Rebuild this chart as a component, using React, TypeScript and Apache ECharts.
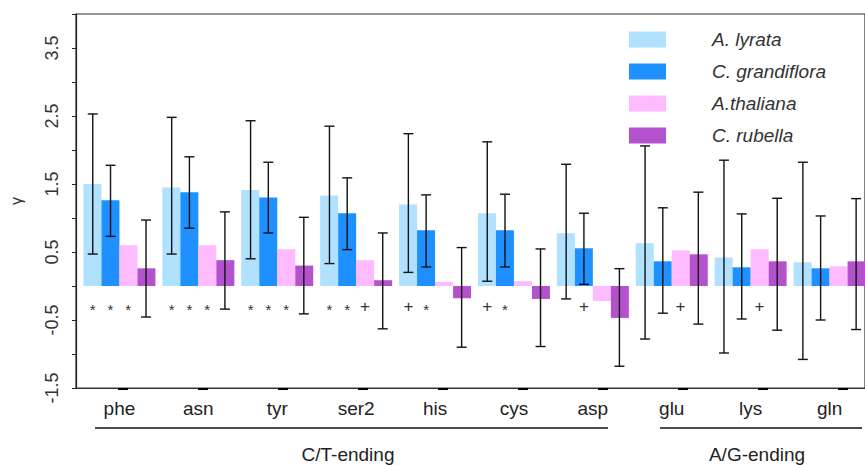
import React, { useEffect, useRef } from "react";
import * as echarts from "echarts";

const categories = ["phe", "asn", "tyr", "ser2", "his", "cys", "asp", "glu", "lys", "gln"];
const seriesNames = ["A. lyrata", "C. grandiflora", "A.thaliana", "C. rubella"];
const colors = ["#B0E2FF", "#1E90FF", "#FFBBFF", "#B452CD"];

const lyrata = [1.5, 1.45, 1.41, 1.33, 1.2, 1.07, 0.775, 0.63, 0.42, 0.35];
const grandiflora = [1.26, 1.38, 1.3, 1.07, 0.82, 0.82, 0.555, 0.363, 0.275, 0.26];
const thaliana = [0.6, 0.6, 0.54, 0.38, 0.06, 0.07, -0.22, 0.525, 0.54, 0.29];
const rubella = [0.26, 0.38, 0.3, 0.085, -0.18, -0.19, -0.47, 0.466, 0.363, 0.363];

const lyrataLow = [0.47, 0.47, 0.4, 0.33, 0.2, 0.07, -0.19, -0.78, -0.985, -1.08];
const lyrataHigh = [2.53, 2.48, 2.43, 2.35, 2.24, 2.12, 1.79, 2.06, 1.85, 1.82];
const grandLow = [0.73, 0.85, 0.78, 0.535, 0.28, 0.28, 0.025, -0.4, -0.485, -0.5];
const grandHigh = [1.775, 1.9, 1.82, 1.59, 1.34, 1.35, 1.07, 1.15, 1.06, 1.03];
const rubellaLow = [-0.456, -0.34, -0.41, -0.63, -0.9, -0.89, -1.18, -0.56, -0.65, -0.64];
const rubellaHigh = [0.97, 1.09, 1.01, 0.78, 0.565, 0.545, 0.255, 1.38, 1.29, 1.285];

// significance marks under lyrata / grandiflora / thaliana bars
const marks = [
  ["*", "*", "*"],
  ["*", "*", "*"],
  ["*", "*", "*"],
  ["*", "*", "+"],
  ["+", "*", ""],
  ["+", "*", ""],
  ["", "+", ""],
  ["", "", "+"],
  ["", "", "+"],
  ["", "", ""],
];
const markLevel = -0.3;

const groupLabels = ["C/T-ending", "A/G-ending"];

const FONT = "'Liberation Sans', Arial, Helvetica, sans-serif";

export default function App() {
  const ref = useRef<HTMLDivElement>(null);
  useEffect(() => {
    if (!ref.current) return;
    const chart = echarts.init(ref.current, null, { renderer: "svg" });
    // offset of bar j within band (band 80 = 8 gap + 4*18 bars)
    const frac = (j: number) => (8 + 9 + 18 * j) / 80 - 0.5;

    const errData: number[][] = [];
    ([
      [lyrataLow, lyrataHigh, 0],
      [grandLow, grandHigh, 1],
      [rubellaLow, rubellaHigh, 3],
    ] as [number[], number[], number][]).forEach(([lo, hi, j]) => {
      categories.forEach((_, i) => errData.push([i, j, lo[i], hi[i]]));
    });
    const markData: number[][] = [];
    const markSym: string[] = [];
    marks.forEach((row, i) =>
      row.forEach((s, j) => {
        if (s) {
          markData.push([i, j, markLevel]);
          markSym.push(s);
        }
      })
    );

    const values = [lyrata, grandiflora, thaliana, rubella];
    const barSeries: any[] = values.map((v, k) => ({
      name: seriesNames[k],
      type: "bar",
      data: v,
      barWidth: 18,
      barGap: "0%",
      itemStyle: { color: colors[k] },
      xAxisIndex: 0,
      yAxisIndex: 0,
    }));

    const lineStyle = { stroke: "#111", lineWidth: 1.4 };
    const textBase = {
      fill: "#222",
      font: `19px ${FONT}`,
      align: "center",
      verticalAlign: "middle",
      textAlign: "center",
      textVerticalAlign: "middle",
    };

    chart.setOption({
      animation: false,
      textStyle: { fontFamily: FONT },
      grid: [
        { left: 70, top: 14, width: 800, height: 374, show: true, borderColor: "#333", borderWidth: 1.2 },
        { left: 123, top: 14, width: 720, height: 374, show: false },
      ],
      legend: {
        data: seriesNames,
        orient: "vertical",
        left: 629,
        top: 30,
        padding: 0,
        itemWidth: 37,
        itemHeight: 16,
        itemGap: 13,
        icon: "rect",
        textStyle: { fontStyle: "italic", fontSize: 19, color: "#333", fontFamily: FONT, padding: [0, 0, 0, 41] },
      },
      xAxis: [
        {
          type: "category",
          data: categories,
          gridIndex: 0,
          axisLine: { show: true, onZero: false, lineStyle: { color: "#333", width: 1.2 } },
          axisTick: { show: false },
          axisLabel: { fontSize: 19, color: "#222", margin: 11, padding: [0, 0, 0, 8], fontFamily: FONT },
        },
        {
          type: "value",
          gridIndex: 1,
          min: 0,
          max: 9,
          interval: 1,
          axisLine: { show: false },
          axisLabel: { show: false },
          splitLine: { show: false },
          axisTick: { show: true, length: 2, lineStyle: { width: 10, color: "#000" } },
        },
      ],
      yAxis: [
        {
          type: "value",
          gridIndex: 0,
          min: -1.5,
          max: 4,
          interval: 0.5,
          name: "γ",
          nameLocation: "middle",
          nameGap: 52,
          nameRotate: 90,
          nameTextStyle: { fontSize: 16, color: "#333", fontFamily: FONT },
          axisLine: { show: true, onZero: false, lineStyle: { color: "#222", width: 1.2 } },
          axisTick: { show: true, length: 4, lineStyle: { color: "#222" } },
          splitLine: { show: false },
          axisLabel: {
            rotate: 90,
            fontSize: 18,
            color: "#333",
            margin: 15,
            fontFamily: FONT,
            formatter: (v: number) => (Math.round(v * 2) % 2 !== 0 ? v.toFixed(1) : ""),
          },
        },
        { type: "value", gridIndex: 1, min: 0, max: 1, show: false },
      ],
      series: [
        {
          name: "pad",
          type: "bar",
          data: categories.map(() => "-"),
          barWidth: 8,
          barGap: "0%",
          xAxisIndex: 0,
          yAxisIndex: 0,
          silent: true,
        },
        ...barSeries,
        {
          type: "custom",
          xAxisIndex: 0,
          yAxisIndex: 0,
          data: errData,
          encode: { x: 0, y: [2, 3] },
          z: 5,
          renderItem: (params: any, api: any) => {
            const i = api.value(0);
            const j = api.value(1);
            const bw = api.size([1, 0])[0];
            const x = api.coord([i, 0])[0] + bw * frac(j);
            const yLo = api.coord([i, api.value(2)])[1];
            const yHi = api.coord([i, api.value(3)])[1];
            const cap = 5;
            return {
              type: "group",
              children: [
                { type: "line", shape: { x1: x, y1: yLo, x2: x, y2: yHi }, style: lineStyle },
                { type: "line", shape: { x1: x - cap, y1: yHi, x2: x + cap, y2: yHi }, style: lineStyle },
                { type: "line", shape: { x1: x - cap, y1: yLo, x2: x + cap, y2: yLo }, style: lineStyle },
              ],
            };
          },
        },
        {
          type: "custom",
          xAxisIndex: 0,
          yAxisIndex: 0,
          data: markData,
          encode: { x: 0, y: 2 },
          z: 5,
          renderItem: (params: any, api: any) => {
            const i = api.value(0);
            const j = api.value(1);
            const bw = api.size([1, 0])[0];
            const x = api.coord([i, 0])[0] + bw * frac(j);
            const y = api.coord([i, api.value(2)])[1];
            const s = markSym[params.dataIndex];
            return {
              type: "text",
              x,
              y: s === "*" ? y + 3 : y,
              style: {
                text: s,
                fill: "#333",
                font: `${s === "*" ? 15 : 17}px ${FONT}`,
                align: "center",
                verticalAlign: "middle",
                textAlign: "center",
                textVerticalAlign: "middle",
              },
            };
          },
        },
      ],
      graphic: [
        { type: "line", shape: { x1: 95, y1: 428, x2: 608, y2: 428 }, style: { stroke: "#111", lineWidth: 1.3 } },
        { type: "line", shape: { x1: 660, y1: 428, x2: 862, y2: 428 }, style: { stroke: "#111", lineWidth: 1.3 } },
        { type: "text", x: 348, y: 454, style: { ...textBase, text: groupLabels[0] } },
        { type: "text", x: 757, y: 454, style: { ...textBase, text: groupLabels[1] } },
      ],
    });
    return () => chart.dispose();
  }, []);
  return <div ref={ref} style={{ position: "absolute", left: 0, top: 0, width: 865, height: 465 }} />;
}
